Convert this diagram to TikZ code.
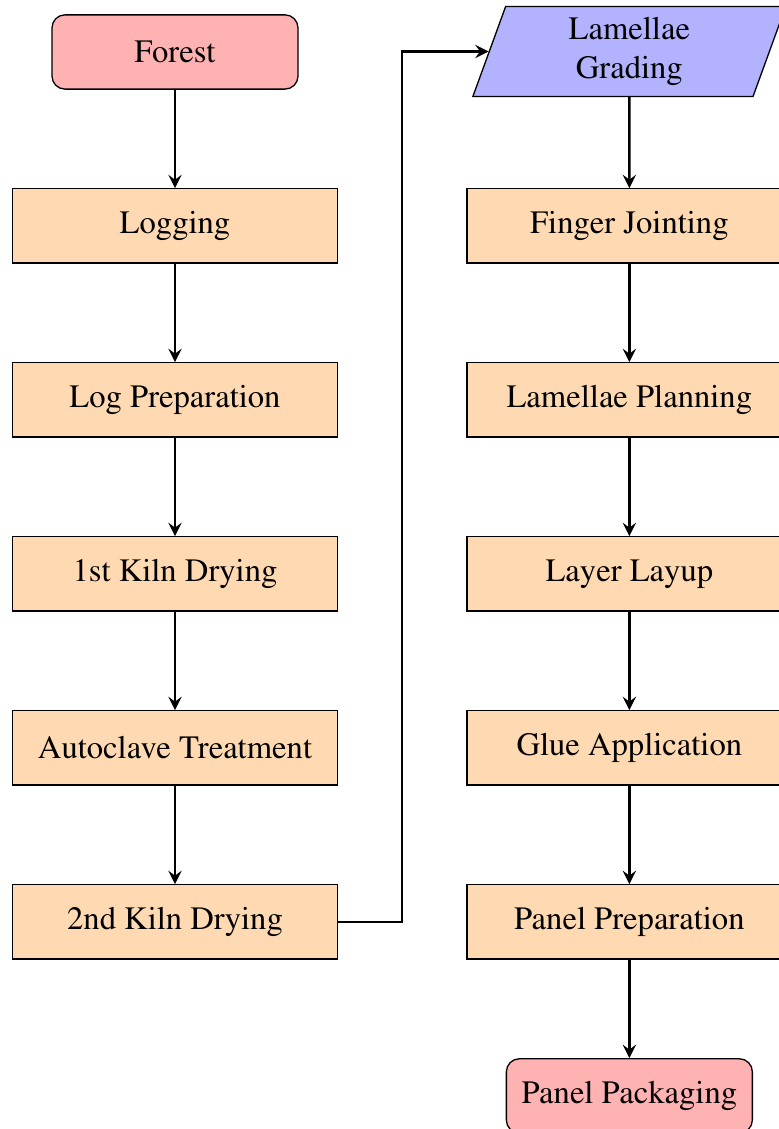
\documentclass[tikz,border=0pt]{standalone}
\usepackage[T1]{fontenc}
\usepackage{mathptmx}
\usepackage{tikz}
\usetikzlibrary{positioning,shapes.geometric}

\begin{document}
\begin{tikzpicture}[%
		  node distance=1.06cm,
		  startstop/.style={rectangle, rounded corners, minimum width=2.65cm, minimum height=0.8cm, text centered, draw=black, fill=red!30},
		  process/.style={rectangle, minimum width=3.5cm, minimum height=0.8cm, text centered, draw=black, fill=orange!30},
		  io/.style={trapezium, trapezium left angle=70, trapezium right angle=110, minimum height=0.96cm, text width=2.43cm, align=center, draw=black, fill=blue!30},
		  arrow/.style={thick, ->, >=stealth}]
		  \useasboundingbox (-1.885,0.560) rectangle (6.506,-11.601);
		  % first column
		  \node (forest) [startstop] {Forest};
		  \node (logging) [process, below=of forest] {Logging};
		  \node (logprep) [process, below=of logging] {Log Preparation};
		  \node (kilnone) [process, below=of logprep] {1st Kiln Drying};
		  \node (autoclave) [process, below=of kilnone] {Autoclave Treatment};
		  \node (kilntwo) [process, below=of autoclave] {2nd Kiln Drying};
		  % second column
		  \node (jointing) [process, right=1.38cm of logging] {Finger Jointing};
		  \node (grading) [io, above=0.98cm of jointing] {Lamellae Grading};
		  \node (planning) [process, below=of jointing] {Lamellae Planning};
		  \node (layup) [process, below=of planning] {Layer Layup};
		  \node (glue) [process, below=of layup] {Glue Application};
		  \node (panelprep) [process, below=of glue] {Panel Preparation};
		  \node (packaging) [startstop, below=of panelprep] {Panel Packaging};
		  % arrows
		  \draw [arrow] (forest) -- (logging);
		  \draw [arrow] (logging) -- (logprep);
		  \draw [arrow] (logprep) -- (kilnone);
		  \draw [arrow] (kilnone) -- (autoclave);
		  \draw [arrow] (autoclave) -- (kilntwo);
		  \draw [arrow] (kilntwo.east) -- ++(0.69,0) |- (grading.west);
		  \draw [arrow] (grading) -- (jointing);
		  \draw [arrow] (jointing) -- (planning);
		  \draw [arrow] (planning) -- (layup);
		  \draw [arrow] (layup) -- (glue);
		  \draw [arrow] (glue) -- (panelprep);
		  \draw [arrow] (panelprep) -- (packaging);
\end{tikzpicture}
\end{document}
